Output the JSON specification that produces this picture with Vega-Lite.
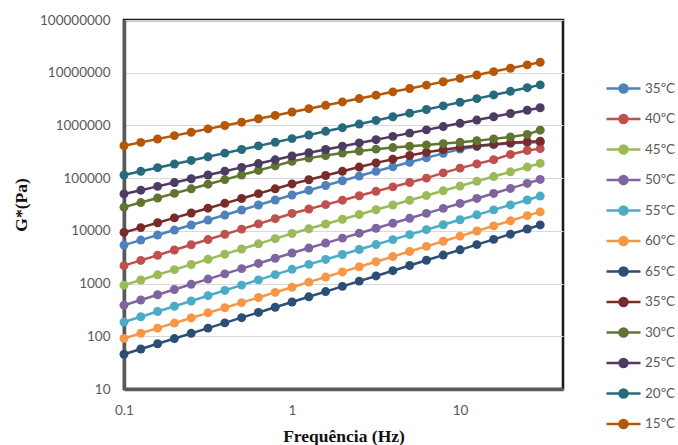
{
  "$schema": "https://vega.github.io/schema/vega-lite/v6.json",
  "width": 439,
  "height": 369,
  "autosize": {"type": "none"},
  "padding": {"left": 124, "top": 20, "right": 115, "bottom": 56},
  "background": "white",
  "config": {
    "view": {"stroke": "#1a1a1a", "strokeWidth": 2.5},
    "axis": {
      "labelFont": "Lato",
      "labelFontSize": 13.5,
      "labelColor": "#595959",
      "labelFlush": false,
      "labelOverlap": false,
      "ticks": false,
      "domainColor": "#595959",
      "domainWidth": 3.5,
      "titleFont": "Liberation Serif",
      "titleFontWeight": "bold",
      "titleFontSize": 17.5,
      "titleColor": "#111111"
    }
  },
  "data": {
    "values": [
      {"serie":"35ºC|1","freq":0.1,"G":5370},{"serie":"35ºC|1","freq":0.1259,"G":6680},{"serie":"35ºC|1","freq":0.1585,"G":8320},{"serie":"35ºC|1","freq":0.1995,"G":10350},{"serie":"35ºC|1","freq":0.2512,"G":12880},{"serie":"35ºC|1","freq":0.3162,"G":16030},{"serie":"35ºC|1","freq":0.3981,"G":19950},{"serie":"35ºC|1","freq":0.5012,"G":24830},{"serie":"35ºC|1","freq":0.631,"G":30900},{"serie":"35ºC|1","freq":0.7943,"G":38460},{"serie":"35ºC|1","freq":1,"G":47860},{"serie":"35ºC|1","freq":1.259,"G":58880},{"serie":"35ºC|1","freq":1.585,"G":72440},{"serie":"35ºC|1","freq":1.995,"G":89130},{"serie":"35ºC|1","freq":2.512,"G":109600},{"serie":"35ºC|1","freq":3.162,"G":134900},{"serie":"35ºC|1","freq":3.981,"G":164100},{"serie":"35ºC|1","freq":5.012,"G":199500},{"serie":"35ºC|1","freq":6.31,"G":242700},{"serie":"35ºC|1","freq":7.943,"G":295100},{"serie":"35ºC|1","freq":10,"G":354800},{"serie":"35ºC|1","freq":12.59,"G":398100},{"serie":"35ºC|1","freq":15.85,"G":431500},{"serie":"35ºC|1","freq":19.95,"G":457100},{"serie":"35ºC|1","freq":25.12,"G":473200},{"serie":"35ºC|1","freq":30,"G":478600},
      {"serie":"40ºC|2","freq":0.1,"G":2190},{"serie":"40ºC|2","freq":0.1259,"G":2750},{"serie":"40ºC|2","freq":0.1585,"G":3450},{"serie":"40ºC|2","freq":0.1995,"G":4335},{"serie":"40ºC|2","freq":0.2512,"G":5445},{"serie":"40ºC|2","freq":0.3162,"G":6840},{"serie":"40ºC|2","freq":0.3981,"G":8590},{"serie":"40ºC|2","freq":0.5012,"G":10790},{"serie":"40ºC|2","freq":0.631,"G":13550},{"serie":"40ºC|2","freq":0.7943,"G":17020},{"serie":"40ºC|2","freq":1,"G":21380},{"serie":"40ºC|2","freq":1.259,"G":25940},{"serie":"40ºC|2","freq":1.585,"G":31480},{"serie":"40ºC|2","freq":1.995,"G":38190},{"serie":"40ºC|2","freq":2.512,"G":46340},{"serie":"40ºC|2","freq":3.162,"G":56230},{"serie":"40ºC|2","freq":3.981,"G":68230},{"serie":"40ºC|2","freq":5.012,"G":82790},{"serie":"40ºC|2","freq":6.31,"G":100000},{"serie":"40ºC|2","freq":7.943,"G":125900},{"serie":"40ºC|2","freq":10,"G":154900},{"serie":"40ºC|2","freq":12.59,"G":186200},{"serie":"40ºC|2","freq":15.85,"G":223900},{"serie":"40ºC|2","freq":19.95,"G":281800},{"serie":"40ºC|2","freq":25.12,"G":335000},{"serie":"40ºC|2","freq":30,"G":363100},
      {"serie":"45ºC|3","freq":0.1,"G":933},{"serie":"45ºC|3","freq":0.1259,"G":1169},{"serie":"45ºC|3","freq":0.1585,"G":1466},{"serie":"45ºC|3","freq":0.1995,"G":1837},{"serie":"45ºC|3","freq":0.2512,"G":2301},{"serie":"45ºC|3","freq":0.3162,"G":2884},{"serie":"45ºC|3","freq":0.3981,"G":3614},{"serie":"45ºC|3","freq":0.5012,"G":4529},{"serie":"45ºC|3","freq":0.631,"G":5675},{"serie":"45ºC|3","freq":0.7943,"G":7112},{"serie":"45ºC|3","freq":1,"G":8913},{"serie":"45ºC|3","freq":1.259,"G":10960},{"serie":"45ºC|3","freq":1.585,"G":13490},{"serie":"45ºC|3","freq":1.995,"G":16600},{"serie":"45ºC|3","freq":2.512,"G":20420},{"serie":"45ºC|3","freq":3.162,"G":25120},{"serie":"45ºC|3","freq":3.981,"G":30900},{"serie":"45ºC|3","freq":5.012,"G":38020},{"serie":"45ºC|3","freq":6.31,"G":46770},{"serie":"45ºC|3","freq":7.943,"G":57540},{"serie":"45ºC|3","freq":10,"G":70790},{"serie":"45ºC|3","freq":12.59,"G":87100},{"serie":"45ºC|3","freq":15.85,"G":107200},{"serie":"45ºC|3","freq":19.95,"G":131800},{"serie":"45ºC|3","freq":25.12,"G":162200},{"serie":"45ºC|3","freq":30,"G":190500},
      {"serie":"50ºC|4","freq":0.1,"G":389},{"serie":"50ºC|4","freq":0.1259,"G":488.7},{"serie":"50ºC|4","freq":0.1585,"G":613.8},{"serie":"50ºC|4","freq":0.1995,"G":770.9},{"serie":"50ºC|4","freq":0.2512,"G":968.3},{"serie":"50ºC|4","freq":0.3162,"G":1216},{"serie":"50ºC|4","freq":0.3981,"G":1528},{"serie":"50ºC|4","freq":0.5012,"G":1919},{"serie":"50ºC|4","freq":0.631,"G":2410},{"serie":"50ºC|4","freq":0.7943,"G":3027},{"serie":"50ºC|4","freq":1,"G":3802},{"serie":"50ºC|4","freq":1.259,"G":4721},{"serie":"50ºC|4","freq":1.585,"G":5861},{"serie":"50ºC|4","freq":1.995,"G":7278},{"serie":"50ºC|4","freq":2.512,"G":9036},{"serie":"50ºC|4","freq":3.162,"G":11220},{"serie":"50ºC|4","freq":3.981,"G":13930},{"serie":"50ºC|4","freq":5.012,"G":17300},{"serie":"50ºC|4","freq":6.31,"G":21480},{"serie":"50ºC|4","freq":7.943,"G":26670},{"serie":"50ºC|4","freq":10,"G":33110},{"serie":"50ºC|4","freq":12.59,"G":41210},{"serie":"50ºC|4","freq":15.85,"G":51290},{"serie":"50ºC|4","freq":19.95,"G":63830},{"serie":"50ºC|4","freq":25.12,"G":79430},{"serie":"50ºC|4","freq":30,"G":94410},
      {"serie":"55ºC|5","freq":0.1,"G":186.2},{"serie":"55ºC|5","freq":0.1259,"G":234.4},{"serie":"55ºC|5","freq":0.1585,"G":295.1},{"serie":"55ºC|5","freq":0.1995,"G":371.5},{"serie":"55ºC|5","freq":0.2512,"G":467.7},{"serie":"55ºC|5","freq":0.3162,"G":588.8},{"serie":"55ºC|5","freq":0.3981,"G":741.3},{"serie":"55ºC|5","freq":0.5012,"G":933.3},{"serie":"55ºC|5","freq":0.631,"G":1175},{"serie":"55ºC|5","freq":0.7943,"G":1479},{"serie":"55ºC|5","freq":1,"G":1862},{"serie":"55ºC|5","freq":1.259,"G":2312},{"serie":"55ºC|5","freq":1.585,"G":2871},{"serie":"55ºC|5","freq":1.995,"G":3565},{"serie":"55ºC|5","freq":2.512,"G":4426},{"serie":"55ºC|5","freq":3.162,"G":5495},{"serie":"55ºC|5","freq":3.981,"G":6823},{"serie":"55ºC|5","freq":5.012,"G":8472},{"serie":"55ºC|5","freq":6.31,"G":10520},{"serie":"55ºC|5","freq":7.943,"G":13060},{"serie":"55ºC|5","freq":10,"G":16220},{"serie":"55ºC|5","freq":12.59,"G":20140},{"serie":"55ºC|5","freq":15.85,"G":25000},{"serie":"55ºC|5","freq":19.95,"G":31050},{"serie":"55ºC|5","freq":25.12,"G":38550},{"serie":"55ºC|5","freq":30,"G":45710},
      {"serie":"60ºC|6","freq":0.1,"G":91.2},{"serie":"60ºC|6","freq":0.1259,"G":114},{"serie":"60ºC|6","freq":0.1585,"G":142.6},{"serie":"60ºC|6","freq":0.1995,"G":178.2},{"serie":"60ºC|6","freq":0.2512,"G":222.8},{"serie":"60ºC|6","freq":0.3162,"G":278.6},{"serie":"60ºC|6","freq":0.3981,"G":348.3},{"serie":"60ºC|6","freq":0.5012,"G":435.5},{"serie":"60ºC|6","freq":0.631,"G":544.5},{"serie":"60ºC|6","freq":0.7943,"G":680.8},{"serie":"60ºC|6","freq":1,"G":851.1},{"serie":"60ºC|6","freq":1.259,"G":1064},{"serie":"60ºC|6","freq":1.585,"G":1330},{"serie":"60ºC|6","freq":1.995,"G":1663},{"serie":"60ºC|6","freq":2.512,"G":2080},{"serie":"60ºC|6","freq":3.162,"G":2600},{"serie":"60ºC|6","freq":3.981,"G":3251},{"serie":"60ºC|6","freq":5.012,"G":4064},{"serie":"60ºC|6","freq":6.31,"G":5082},{"serie":"60ºC|6","freq":7.943,"G":6353},{"serie":"60ºC|6","freq":10,"G":7943},{"serie":"60ºC|6","freq":12.59,"G":9931},{"serie":"60ºC|6","freq":15.85,"G":12420},{"serie":"60ºC|6","freq":19.95,"G":15520},{"serie":"60ºC|6","freq":25.12,"G":19410},{"serie":"60ºC|6","freq":30,"G":22910},
      {"serie":"65ºC|7","freq":0.1,"G":45.7},{"serie":"65ºC|7","freq":0.1259,"G":57.4},{"serie":"65ºC|7","freq":0.1585,"G":72.1},{"serie":"65ºC|7","freq":0.1995,"G":90.6},{"serie":"65ºC|7","freq":0.2512,"G":113.8},{"serie":"65ºC|7","freq":0.3162,"G":142.9},{"serie":"65ºC|7","freq":0.3981,"G":179.5},{"serie":"65ºC|7","freq":0.5012,"G":225.4},{"serie":"65ºC|7","freq":0.631,"G":283.1},{"serie":"65ºC|7","freq":0.7943,"G":355.6},{"serie":"65ºC|7","freq":1,"G":446.7},{"serie":"65ºC|7","freq":1.259,"G":561},{"serie":"65ºC|7","freq":1.585,"G":705},{"serie":"65ºC|7","freq":1.995,"G":885},{"serie":"65ºC|7","freq":2.512,"G":1112},{"serie":"65ºC|7","freq":3.162,"G":1396},{"serie":"65ºC|7","freq":3.981,"G":1754},{"serie":"65ºC|7","freq":5.012,"G":2203},{"serie":"65ºC|7","freq":6.31,"G":2767},{"serie":"65ºC|7","freq":7.943,"G":3475},{"serie":"65ºC|7","freq":10,"G":4365},{"serie":"65ºC|7","freq":12.59,"G":5483},{"serie":"65ºC|7","freq":15.85,"G":6887},{"serie":"65ºC|7","freq":19.95,"G":8650},{"serie":"65ºC|7","freq":25.12,"G":10860},{"serie":"65ºC|7","freq":30,"G":12940},
      {"serie":"35ºC|8","freq":0.1,"G":9333},{"serie":"35ºC|8","freq":0.1259,"G":11530},{"serie":"35ºC|8","freq":0.1585,"G":14260},{"serie":"35ºC|8","freq":0.1995,"G":17620},{"serie":"35ºC|8","freq":0.2512,"G":21780},{"serie":"35ºC|8","freq":0.3162,"G":26920},{"serie":"35ºC|8","freq":0.3981,"G":33270},{"serie":"35ºC|8","freq":0.5012,"G":41110},{"serie":"35ºC|8","freq":0.631,"G":50820},{"serie":"35ºC|8","freq":0.7943,"G":62810},{"serie":"35ºC|8","freq":1,"G":77620},{"serie":"35ºC|8","freq":1.259,"G":93330},{"serie":"35ºC|8","freq":1.585,"G":112200},{"serie":"35ºC|8","freq":1.995,"G":134900},{"serie":"35ºC|8","freq":2.512,"G":162200},{"serie":"35ºC|8","freq":3.162,"G":195000},{"serie":"35ºC|8","freq":3.981,"G":229100},{"serie":"35ºC|8","freq":5.012,"G":269200},{"serie":"35ºC|8","freq":6.31,"G":309000},{"serie":"35ºC|8","freq":7.943,"G":346700},{"serie":"35ºC|8","freq":10,"G":380200},{"serie":"35ºC|8","freq":12.59,"G":412100},{"serie":"35ºC|8","freq":15.85,"G":441600},{"serie":"35ºC|8","freq":19.95,"G":467700},{"serie":"35ºC|8","freq":25.12,"G":489800},{"serie":"35ºC|8","freq":30,"G":501200},
      {"serie":"30ºC|9","freq":0.1,"G":28180},{"serie":"30ºC|9","freq":0.1259,"G":34430},{"serie":"30ºC|9","freq":0.1585,"G":42070},{"serie":"30ºC|9","freq":0.1995,"G":51400},{"serie":"30ºC|9","freq":0.2512,"G":62810},{"serie":"30ºC|9","freq":0.3162,"G":76740},{"serie":"30ºC|9","freq":0.3981,"G":93760},{"serie":"30ºC|9","freq":0.5012,"G":114600},{"serie":"30ºC|9","freq":0.631,"G":140000},{"serie":"30ºC|9","freq":0.7943,"G":171000},{"serie":"30ºC|9","freq":1,"G":208900},{"serie":"30ºC|9","freq":1.259,"G":239900},{"serie":"30ºC|9","freq":1.585,"G":269200},{"serie":"30ºC|9","freq":1.995,"G":298500},{"serie":"30ºC|9","freq":2.512,"G":327300},{"serie":"30ºC|9","freq":3.162,"G":354800},{"serie":"30ºC|9","freq":3.981,"G":380200},{"serie":"30ºC|9","freq":5.012,"G":402700},{"serie":"30ºC|9","freq":6.31,"G":426600},{"serie":"30ºC|9","freq":7.943,"G":451900},{"serie":"30ºC|9","freq":10,"G":478600},{"serie":"30ºC|9","freq":12.59,"G":512900},{"serie":"30ºC|9","freq":15.85,"G":555900},{"serie":"30ºC|9","freq":19.95,"G":602600},{"serie":"30ºC|9","freq":25.12,"G":676100},{"serie":"30ºC|9","freq":30,"G":812800},
      {"serie":"25ºC|10","freq":0.1,"G":50120},{"serie":"25ºC|10","freq":0.1259,"G":59160},{"serie":"25ºC|10","freq":0.1585,"G":69820},{"serie":"25ºC|10","freq":0.1995,"G":82410},{"serie":"25ºC|10","freq":0.2512,"G":97270},{"serie":"25ºC|10","freq":0.3162,"G":114800},{"serie":"25ºC|10","freq":0.3981,"G":135500},{"serie":"25ºC|10","freq":0.5012,"G":160000},{"serie":"25ºC|10","freq":0.631,"G":188800},{"serie":"25ºC|10","freq":0.7943,"G":222800},{"serie":"25ºC|10","freq":1,"G":263000},{"serie":"25ºC|10","freq":1.259,"G":303400},{"serie":"25ºC|10","freq":1.585,"G":349900},{"serie":"25ºC|10","freq":1.995,"G":403600},{"serie":"25ºC|10","freq":2.512,"G":465600},{"serie":"25ºC|10","freq":3.162,"G":537000},{"serie":"25ºC|10","freq":3.981,"G":619400},{"serie":"25ºC|10","freq":5.012,"G":714500},{"serie":"25ºC|10","freq":6.31,"G":824100},{"serie":"25ºC|10","freq":7.943,"G":950600},{"serie":"25ºC|10","freq":10,"G":1096000},{"serie":"25ºC|10","freq":12.59,"G":1265000},{"serie":"25ºC|10","freq":15.85,"G":1459000},{"serie":"25ºC|10","freq":19.95,"G":1683000},{"serie":"25ºC|10","freq":25.12,"G":1941000},{"serie":"25ºC|10","freq":30,"G":2163000},
      {"serie":"20ºC|11","freq":0.1,"G":114800},{"serie":"20ºC|11","freq":0.1259,"G":134600},{"serie":"20ºC|11","freq":0.1585,"G":157800},{"serie":"20ºC|11","freq":0.1995,"G":184900},{"serie":"20ºC|11","freq":0.2512,"G":216800},{"serie":"20ºC|11","freq":0.3162,"G":254100},{"serie":"20ºC|11","freq":0.3981,"G":297900},{"serie":"20ºC|11","freq":0.5012,"G":349100},{"serie":"20ºC|11","freq":0.631,"G":409300},{"serie":"20ºC|11","freq":0.7943,"G":479700},{"serie":"20ºC|11","freq":1,"G":562300},{"serie":"20ºC|11","freq":1.259,"G":659200},{"serie":"20ºC|11","freq":1.585,"G":772700},{"serie":"20ºC|11","freq":1.995,"G":905700},{"serie":"20ºC|11","freq":2.512,"G":1062000},{"serie":"20ºC|11","freq":3.162,"G":1245000},{"serie":"20ºC|11","freq":3.981,"G":1459000},{"serie":"20ºC|11","freq":5.012,"G":1710000},{"serie":"20ºC|11","freq":6.31,"G":2004000},{"serie":"20ºC|11","freq":7.943,"G":2350000},{"serie":"20ºC|11","freq":10,"G":2754000},{"serie":"20ºC|11","freq":12.59,"G":3228000},{"serie":"20ºC|11","freq":15.85,"G":3784000},{"serie":"20ºC|11","freq":19.95,"G":4436000},{"serie":"20ºC|11","freq":25.12,"G":5200000},{"serie":"20ºC|11","freq":30,"G":5875000},
      {"serie":"15ºC|12","freq":0.1,"G":412100},{"serie":"15ºC|12","freq":0.1259,"G":477500},{"serie":"15ºC|12","freq":0.1585,"G":553400},{"serie":"15ºC|12","freq":0.1995,"G":641200},{"serie":"15ºC|12","freq":0.2512,"G":743000},{"serie":"15ºC|12","freq":0.3162,"G":861000},{"serie":"15ºC|12","freq":0.3981,"G":995400},{"serie":"15ºC|12","freq":0.5012,"G":1153000},{"serie":"15ºC|12","freq":0.631,"G":1337000},{"serie":"15ºC|12","freq":0.7943,"G":1549000},{"serie":"15ºC|12","freq":1,"G":1795000},{"serie":"15ºC|12","freq":1.259,"G":2080000},{"serie":"15ºC|12","freq":1.585,"G":2410000},{"serie":"15ºC|12","freq":1.995,"G":2793000},{"serie":"15ºC|12","freq":2.512,"G":3236000},{"serie":"15ºC|12","freq":3.162,"G":3750000},{"serie":"15ºC|12","freq":3.981,"G":4335000},{"serie":"15ºC|12","freq":5.012,"G":5023000},{"serie":"15ºC|12","freq":6.31,"G":5821000},{"serie":"15ºC|12","freq":7.943,"G":6745000},{"serie":"15ºC|12","freq":10,"G":7816000},{"serie":"15ºC|12","freq":12.59,"G":9057000},{"serie":"15ºC|12","freq":15.85,"G":10500000},{"serie":"15ºC|12","freq":19.95,"G":12160000},{"serie":"15ºC|12","freq":25.12,"G":14090000},{"serie":"15ºC|12","freq":30,"G":15780000}
    ]
  },
  "mark": {
    "type": "line",
    "strokeWidth": 2.5,
    "point": {"filled": true, "size": 80, "opacity": 1}
  },
  "encoding": {
    "x": {
      "field": "freq",
      "type": "quantitative",
      "scale": {"type": "log", "domain": [0.1, 41], "nice": false},
      "axis": {
        "values": [0.1, 1, 10],
        "format": "~g",
        "grid": false,
        "labelPadding": 14,
        "title": "Frequência (Hz)",
        "titleY": 47,
        "titleBaseline": "middle"
      }
    },
    "y": {
      "field": "G",
      "type": "quantitative",
      "scale": {"type": "log", "domain": [10, 100000000], "nice": false},
      "axis": {
        "values": [10, 100, 1000, 10000, 100000, 1000000, 10000000, 100000000],
        "format": "d",
        "grid": true,
        "gridColor": "#D9D9D9",
        "gridWidth": 1,
        "labelPadding": 14,
        "title": "G*(Pa)",
        "titleX": -103,
        "titleY": 184.5,
        "titleAngle": 270,
        "titleAlign": "center",
        "titleBaseline": "middle"
      }
    },
    "color": {
      "field": "serie",
      "type": "nominal",
      "sort": null,
      "scale": {
        "domain": ["35ºC|1", "40ºC|2", "45ºC|3", "50ºC|4", "55ºC|5", "60ºC|6", "65ºC|7", "35ºC|8", "30ºC|9", "25ºC|10", "20ºC|11", "15ºC|12"],
        "range": ["#4F81BD", "#C0504D", "#9BBB59", "#8064A2", "#4BACC6", "#F79646", "#2C4D75", "#772C2A", "#5F7530", "#4D3B62", "#276A7C", "#B65708"]
      },
      "legend": {
        "title": null,
        "orient": "none",
        "legendX": 488,
        "legendY": 57,
        "padding": 0,
        "symbolType": "M-1.7,0H1.7M0.4,0A0.4,0.4,0,1,1,-0.4,0A0.4,0.4,0,1,1,0.4,0Z",
        "symbolSize": 400,
        "symbolStrokeWidth": 2.5,
        "rowPadding": 9.5,
        "labelOffset": 10,
        "labelFont": "Lato",
        "labelFontSize": 13.5,
        "labelColor": "#595959",
        "labelExpr": "split(datum.label, '|')[0]",
        "encode": {
          "symbols": {
            "update": {
              "fill": {"scale": "color", "field": "value"},
              "stroke": {"scale": "color", "field": "value"},
              "opacity": {"value": 1}
            }
          }
        }
      }
    }
  }
}
